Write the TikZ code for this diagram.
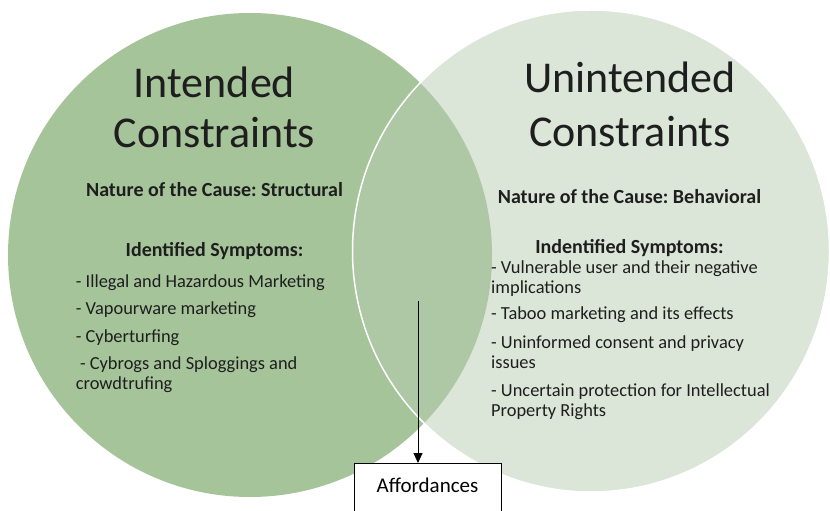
\documentclass[tikz,border=0pt]{standalone}
\usepackage{fontspec}
\setmainfont{Carlito}
\usetikzlibrary{arrows.meta}
\definecolor{intgreen}{RGB}{166,196,154}
\definecolor{unintgreen}{RGB}{183,203,177}
\definecolor{txtgray}{RGB}{30,30,30}
\frenchspacing

\begin{document}
\begin{tikzpicture}[x=1bp,y=-1bp]
\tikzset{
  bigtitle/.style={font=\fontsize{44bp}{49.5bp}\selectfont, align=center, anchor=base, inner sep=0pt, text=txtgray},
  causetext/.style={font=\bfseries\fontsize{20bp}{22bp}\selectfont, anchor=base, inner sep=0pt, text=txtgray},
  itemtext/.style={font=\fontsize{18.4bp}{19.5bp}\selectfont, align=left, anchor=base west, inner sep=0pt, text=txtgray},
  affbox/.style={draw, line width=1bp, fill=white, minimum width=147bp, anchor=north,
    font=\fontsize{21bp}{24bp}\selectfont, text height=20bp, text depth=30bp, inner ysep=8.7bp}
}
    \useasboundingbox (0,0) rectangle (830,511);
    \clip (0,0) rectangle (830,511);

    % 两个集合
    \fill[intgreen] (250,255) circle [radius=242];
    \draw[white, line width=1.5bp, fill=unintgreen, fill opacity=0.5] (591,251) ellipse [x radius=238.5, y radius=241];

    % 左边 (多行的节点: base 在最后一行)
    \node[bigtitle] (inttitle) at (214.5,147.5) {Intended\\Constraints};
    \node[causetext] (intcause) at (214.5,196.7) {Nature of the Cause: Structural};
    \node[causetext] (intsymp) at (214.5,257) {Identified Symptoms:};
    \node[itemtext] (intA) at (75.7,287.3) {- Illegal and Hazardous Marketing};
    \node[itemtext] (intB) at (75.7,314.5) {- Vapourware marketing};
    \node[itemtext] (intC) at (75.7,342.3) {- Cyberturfing};
    \node[itemtext] (intD) at (75.7,389.3) {\ - Cybrogs and Sploggings and\\crowdtrufing};

    % 右边
    \node[bigtitle, font=\fontsize{44bp}{54bp}\selectfont] (uninttitle) at (630,147) {Unintended\\Constraints};
    \node[causetext] (unintcause) at (629.5,203.5) {Nature of the Cause: Behavioral};
    \node[causetext] (unintsymp) at (629.5,253.3) {Indentified Symptoms:};
    \node[itemtext] (unintA) at (491,293.3) {- Vulnerable user and their negative\\implications};
    \node[itemtext] (unintB) at (491,320) {- Taboo marketing and its effects};
    \node[itemtext] (unintC) at (491,368) {- Uninformed consent and privacy\\issues};
    \node[itemtext] (unintD) at (491,416) {- Uncertain protection for Intellectual\\Property Rights};

    % 箭头
    \coordinate (arrtop) at (418,301);
    \node[affbox] (aff) at (427.5,463) {Affordances};
    \draw[line width=1bp, -{Triangle[width=9bp,length=10bp]}] (arrtop) -- (arrtop |- aff.north);

\end{tikzpicture}
\end{document}
